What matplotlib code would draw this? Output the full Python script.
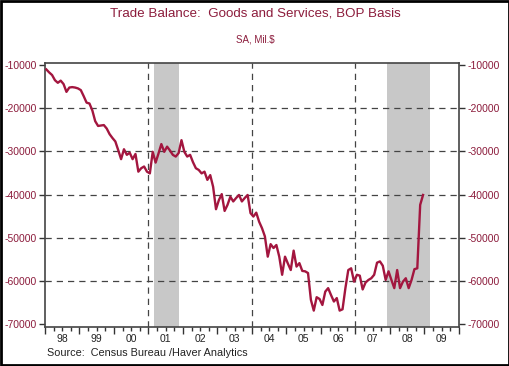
import numpy as np
import matplotlib
matplotlib.use("Agg")
import matplotlib.pyplot as plt
from matplotlib.patches import Rectangle

plt.rcParams['font.family'] = ['Liberation Sans', 'DejaVu Sans']

# Monthly trade balance, Jan 1998 - Dec 2008 (Mil. $, SA)
start_year = 1998
balance = [
    -11000, -11700, -12300, -13500, -14100, -13600, -14400, -16200, -15200, -15100, -15200, -15400,  # 1998
    -15800, -17200, -18700, -18900, -20500, -23000, -24100, -24000, -23900, -24700, -26000, -26900,  # 1999
    -27700, -29700, -31800, -29500, -30800, -30300, -31800, -30600, -34700, -33900, -33500, -34700,  # 2000
    -35100, -30100, -32600, -30500, -28300, -30100, -28900, -29800, -30800, -31200, -30400, -27400,  # 2001
    -30100, -31200, -30800, -32500, -33900, -34300, -35100, -34700, -36600, -35500, -38200, -43400,  # 2002
    -41300, -39900, -43800, -42400, -40500, -41600, -40800, -40100, -41600, -40800, -40100, -44300,  # 2003
    -45100, -44200, -46300, -47800, -49700, -54400, -51500, -52400, -51700, -54400, -58600, -54400,  # 2004
    -56000, -57500, -53000, -56700, -55900, -57700, -57800, -58200, -64400, -66900, -63800, -64200,  # 2005
    -65600, -62500, -61700, -63300, -64800, -64000, -66900, -66600, -61700, -57500, -57100, -60200,  # 2006
    -58600, -58800, -62000, -60400, -59800, -59400, -58600, -55800, -55500, -56500, -59800, -57800,  # 2007
    -59800, -61700, -57500, -61700, -60200, -59400, -61700, -59800, -57300, -57100, -42400, -40100,  # 2008
]
recessions = [(2001.17, 2001.90), (2007.92, 2009.17)]
year_labels = ['98', '99', '00', '01', '02', '03', '04', '05', '06', '07', '08', '09']
y_ticks = [-10000, -20000, -30000, -40000, -50000, -60000, -70000]
grid_y = [-20000, -30000, -40000, -50000, -60000]
grid_x = [2001, 2004, 2007]

red = '#8C1C3C'
line_red = '#A3163F'

fig = plt.figure(figsize=(5.10, 3.66), dpi=100)
ax = fig.add_axes([0.088, 0.1066, 0.812, 0.7214])

t = start_year + (np.arange(len(balance)) + 0.5) / 12.0

for a, b in recessions:
    ax.axvspan(a, b, color='#C8C8C8', lw=0, zorder=0)
for gy in grid_y:
    ax.axhline(gy, color='#444444', lw=0.9, ls=(0, (5, 4)), zorder=1)
for gx in grid_x:
    ax.axvline(gx, color='#444444', lw=0.9, ls=(0, (5, 4)), zorder=1)

ax.plot(t, balance, color=line_red, lw=1.7, zorder=3)

ax.set_xlim(1998, 2010)
ax.set_ylim(-70700, -9500)

ax.set_yticks(y_ticks)
ax.set_yticklabels([str(v) for v in y_ticks])
ax.tick_params(axis='y', which='both', direction='out', length=4, width=1,
               labelsize=7.5, labelcolor=red, color='#333333',
               left=True, right=True, labelleft=True, labelright=True, pad=2)

years = np.arange(1998, 2011)
ax.set_xticks(years)
ax.set_xticklabels([])
ax.set_xticks(np.arange(1998, 2010.01, 0.25), minor=True)
ax.tick_params(axis='x', which='major', direction='out', length=5, width=1, color='#333333')
ax.tick_params(axis='x', which='minor', direction='out', length=3, width=1, color='#333333')
for i, lab in enumerate(year_labels):
    ax.text(1998.5 + i, -73600, lab, ha='center', va='center', fontsize=7.5,
            color='#222222')

for s in ax.spines.values():
    s.set_color('#444444')
    s.set_linewidth(1.2)

fig.text(0.5, 0.962, 'Trade Balance:  Goods and Services, BOP Basis', ha='center',
         va='center', fontsize=9.6, color=red)
fig.text(0.5, 0.893, 'SA, Mil.$', ha='center', va='center', fontsize=7, color=red)
fig.text(0.092, 0.036, 'Source:  Census Bureau /Haver Analytics', ha='left',
         va='center', fontsize=7.8, color='#222222')

fig.patches.append(Rectangle((0.002, 0.003), 0.996, 0.994, transform=fig.transFigure,
                             fill=False, edgecolor='black', lw=2))

fig.savefig('out.png', dpi=100)
